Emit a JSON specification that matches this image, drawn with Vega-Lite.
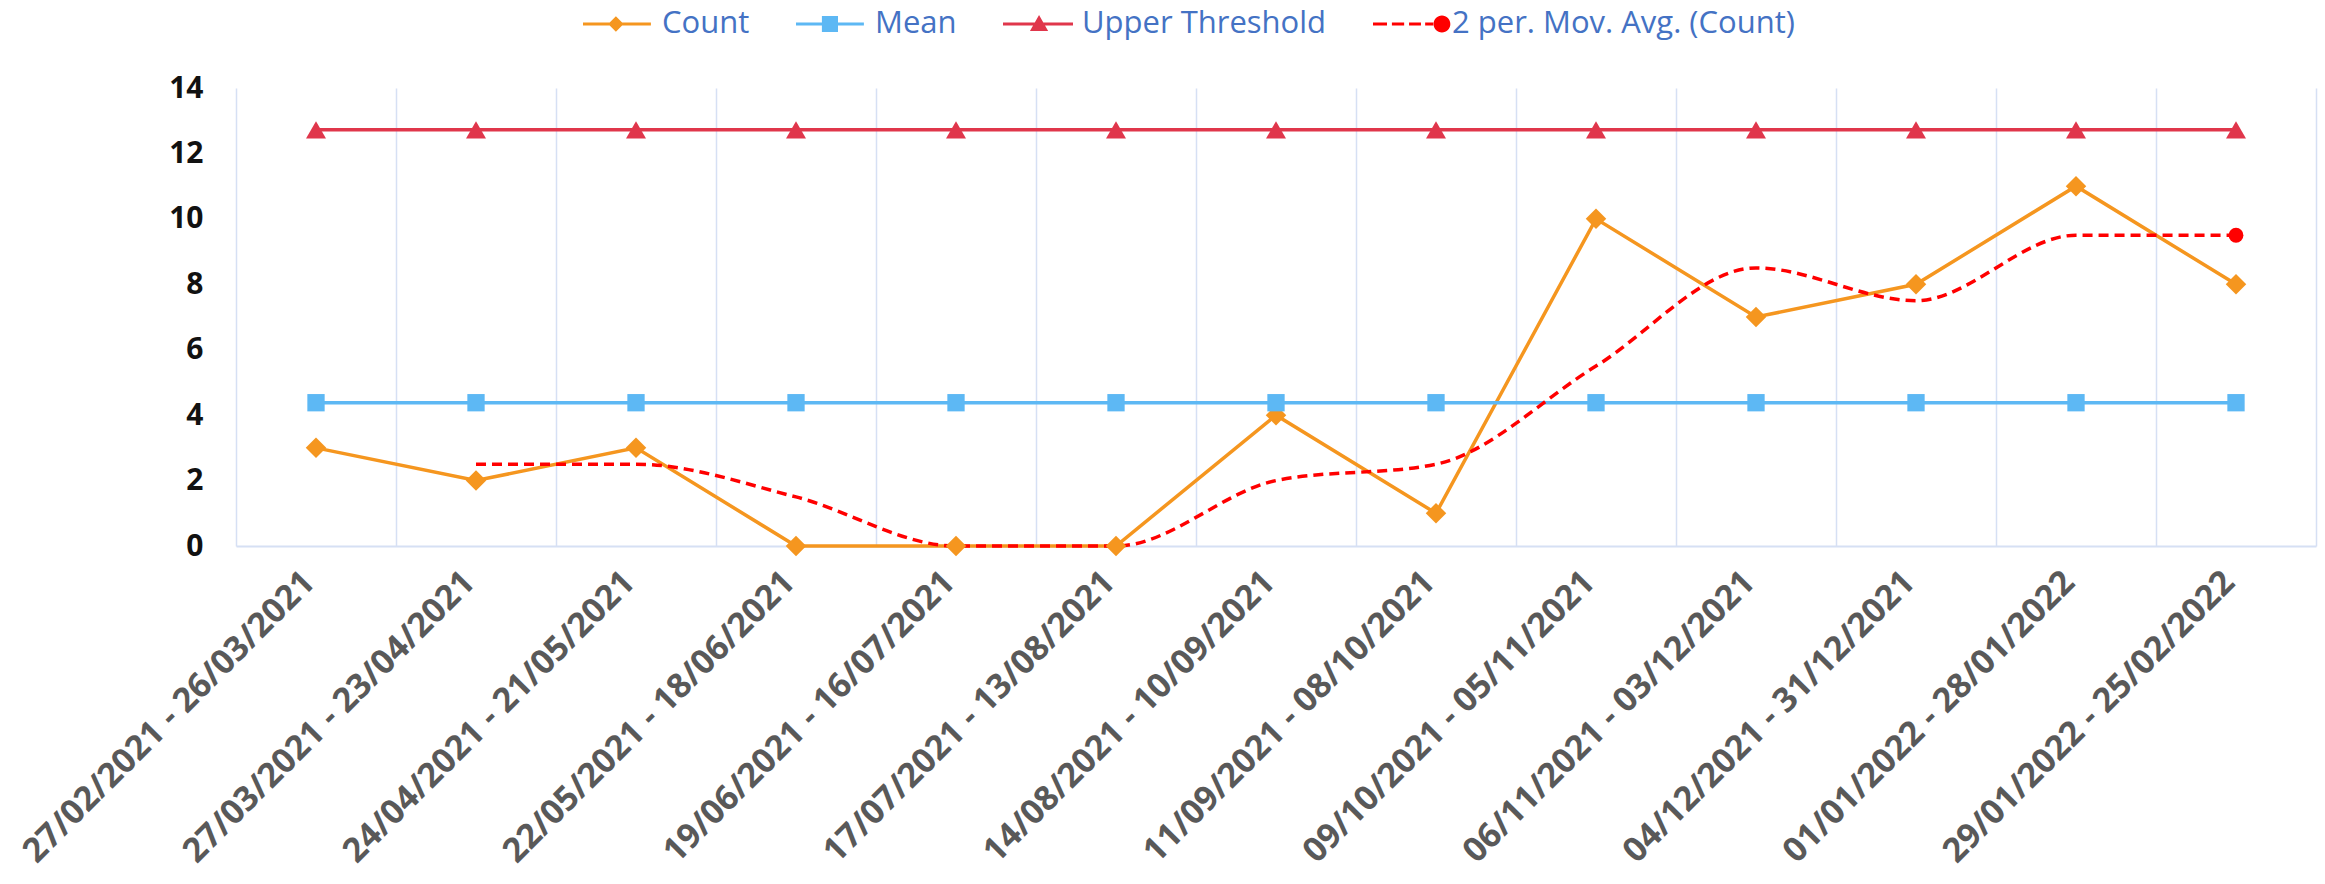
{
  "$schema": "https://vega.github.io/schema/vega-lite/v6.json",
  "autosize": {"type": "none"},
  "width": 2080,
  "height": 458,
  "padding": {"left": 236, "top": 88, "right": 9, "bottom": 338},
  "background": "white",
  "data": {
    "values": [
      {"period": "27/02/2021 - 26/03/2021", "series": "Count", "value": 3},
      {"period": "27/03/2021 - 23/04/2021", "series": "Count", "value": 2},
      {"period": "24/04/2021 - 21/05/2021", "series": "Count", "value": 3},
      {"period": "22/05/2021 - 18/06/2021", "series": "Count", "value": 0},
      {"period": "19/06/2021 - 16/07/2021", "series": "Count", "value": 0},
      {"period": "17/07/2021 - 13/08/2021", "series": "Count", "value": 0},
      {"period": "14/08/2021 - 10/09/2021", "series": "Count", "value": 4},
      {"period": "11/09/2021 - 08/10/2021", "series": "Count", "value": 1},
      {"period": "09/10/2021 - 05/11/2021", "series": "Count", "value": 10},
      {"period": "06/11/2021 - 03/12/2021", "series": "Count", "value": 7},
      {"period": "04/12/2021 - 31/12/2021", "series": "Count", "value": 8},
      {"period": "01/01/2022 - 28/01/2022", "series": "Count", "value": 11},
      {"period": "29/01/2022 - 25/02/2022", "series": "Count", "value": 8},
      {"period": "27/02/2021 - 26/03/2021", "series": "Mean", "value": 4.38},
      {"period": "27/03/2021 - 23/04/2021", "series": "Mean", "value": 4.38},
      {"period": "24/04/2021 - 21/05/2021", "series": "Mean", "value": 4.38},
      {"period": "22/05/2021 - 18/06/2021", "series": "Mean", "value": 4.38},
      {"period": "19/06/2021 - 16/07/2021", "series": "Mean", "value": 4.38},
      {"period": "17/07/2021 - 13/08/2021", "series": "Mean", "value": 4.38},
      {"period": "14/08/2021 - 10/09/2021", "series": "Mean", "value": 4.38},
      {"period": "11/09/2021 - 08/10/2021", "series": "Mean", "value": 4.38},
      {"period": "09/10/2021 - 05/11/2021", "series": "Mean", "value": 4.38},
      {"period": "06/11/2021 - 03/12/2021", "series": "Mean", "value": 4.38},
      {"period": "04/12/2021 - 31/12/2021", "series": "Mean", "value": 4.38},
      {"period": "01/01/2022 - 28/01/2022", "series": "Mean", "value": 4.38},
      {"period": "29/01/2022 - 25/02/2022", "series": "Mean", "value": 4.38},
      {"period": "27/02/2021 - 26/03/2021", "series": "Upper Threshold", "value": 12.72},
      {"period": "27/03/2021 - 23/04/2021", "series": "Upper Threshold", "value": 12.72},
      {"period": "24/04/2021 - 21/05/2021", "series": "Upper Threshold", "value": 12.72},
      {"period": "22/05/2021 - 18/06/2021", "series": "Upper Threshold", "value": 12.72},
      {"period": "19/06/2021 - 16/07/2021", "series": "Upper Threshold", "value": 12.72},
      {"period": "17/07/2021 - 13/08/2021", "series": "Upper Threshold", "value": 12.72},
      {"period": "14/08/2021 - 10/09/2021", "series": "Upper Threshold", "value": 12.72},
      {"period": "11/09/2021 - 08/10/2021", "series": "Upper Threshold", "value": 12.72},
      {"period": "09/10/2021 - 05/11/2021", "series": "Upper Threshold", "value": 12.72},
      {"period": "06/11/2021 - 03/12/2021", "series": "Upper Threshold", "value": 12.72},
      {"period": "04/12/2021 - 31/12/2021", "series": "Upper Threshold", "value": 12.72},
      {"period": "01/01/2022 - 28/01/2022", "series": "Upper Threshold", "value": 12.72},
      {"period": "29/01/2022 - 25/02/2022", "series": "Upper Threshold", "value": 12.72},
      {"period": "27/03/2021 - 23/04/2021", "series": "2 per. Mov. Avg. (Count)", "value": 2.5},
      {"period": "24/04/2021 - 21/05/2021", "series": "2 per. Mov. Avg. (Count)", "value": 2.5},
      {"period": "22/05/2021 - 18/06/2021", "series": "2 per. Mov. Avg. (Count)", "value": 1.5},
      {"period": "19/06/2021 - 16/07/2021", "series": "2 per. Mov. Avg. (Count)", "value": 0},
      {"period": "17/07/2021 - 13/08/2021", "series": "2 per. Mov. Avg. (Count)", "value": 0},
      {"period": "14/08/2021 - 10/09/2021", "series": "2 per. Mov. Avg. (Count)", "value": 2},
      {"period": "11/09/2021 - 08/10/2021", "series": "2 per. Mov. Avg. (Count)", "value": 2.5},
      {"period": "09/10/2021 - 05/11/2021", "series": "2 per. Mov. Avg. (Count)", "value": 5.5},
      {"period": "06/11/2021 - 03/12/2021", "series": "2 per. Mov. Avg. (Count)", "value": 8.5},
      {"period": "04/12/2021 - 31/12/2021", "series": "2 per. Mov. Avg. (Count)", "value": 7.5},
      {"period": "01/01/2022 - 28/01/2022", "series": "2 per. Mov. Avg. (Count)", "value": 9.5},
      {"period": "29/01/2022 - 25/02/2022", "series": "2 per. Mov. Avg. (Count)", "value": 9.5}
    ]
  },
  "encoding": {
    "x": {
      "field": "period",
      "type": "nominal",
      "sort": null,
      "scale": {"paddingInner": 0, "paddingOuter": 0},
      "axis": {
        "title": null,
        "labelAngle": -45,
        "labelBaseline": "middle",
        "labelFont": "Open Sans",
        "labelFontWeight": "bold",
        "labelFontSize": 34,
        "labelColor": "#595959",
        "labelPadding": 31,
        "labelOffset": -7,
        "ticks": false,
        "domainColor": "#d6e0f4",
        "domainWidth": 2,
        "grid": true,
        "gridColor": "#d6e0f4",
        "gridWidth": 1.5,
        "tickBand": "extent",
        "labelLimit": 0
      }
    },
    "y": {
      "field": "value",
      "type": "quantitative",
      "scale": {"domain": [0, 14], "nice": false},
      "axis": {
        "title": null,
        "values": [0, 2, 4, 6, 8, 10, 12, 14],
        "grid": false,
        "domain": false,
        "ticks": false,
        "labelFont": "Open Sans",
        "labelFontWeight": "bold",
        "labelFontSize": 30,
        "labelColor": "#111111",
        "labelPadding": 33
      }
    }
  },
  "layer": [
    {
      "transform": [{"filter": "datum.series == 'Count'"}],
      "mark": {"type": "line", "strokeWidth": 3.5, "color": "#f5961f"},
      "encoding": {}
    },
    {
      "transform": [{"filter": "datum.series == 'Mean'"}],
      "mark": {"type": "line", "strokeWidth": 3.5, "color": "#5db8f4"},
      "encoding": {}
    },
    {
      "transform": [{"filter": "datum.series == 'Upper Threshold'"}],
      "mark": {"type": "line", "strokeWidth": 3.5, "color": "#e0364b"},
      "encoding": {}
    },
    {
      "transform": [{"filter": "datum.series == '2 per. Mov. Avg. (Count)'"}],
      "mark": {"type": "line", "strokeWidth": 3.5, "strokeDash": [10, 6], "interpolate": "monotone", "color": "#ff0000"},
      "encoding": {}
    },
    {
      "transform": [{"filter": "datum.series == 'Count'"}],
      "mark": {"type": "point", "shape": "diamond", "filled": true, "opacity": 1, "size": 420, "color": "#f5961f"},
      "encoding": {}
    },
    {
      "transform": [{"filter": "datum.series == 'Mean'"}],
      "mark": {"type": "point", "shape": "square", "filled": true, "opacity": 1, "size": 300, "color": "#5db8f4"},
      "encoding": {}
    },
    {
      "transform": [{"filter": "datum.series == 'Upper Threshold'"}],
      "mark": {"type": "point", "shape": "triangle-up", "filled": true, "opacity": 1, "size": 400, "color": "#e0364b"},
      "encoding": {}
    },
    {
      "transform": [{"filter": "datum.series == '2 per. Mov. Avg. (Count)' && datum.period == '29/01/2022 - 25/02/2022'"}],
      "mark": {"type": "point", "shape": "circle", "filled": true, "opacity": 1, "size": 220, "color": "#ff0000"},
      "encoding": {}
    },
    {
      "mark": {"type": "point", "filled": true, "opacity": 0},
      "encoding": {
        "color": {
          "field": "series",
          "type": "nominal",
          "scale": {
            "domain": ["Count", "Mean", "Upper Threshold", "2 per. Mov. Avg. (Count)"],
            "range": ["#f5961f", "#5db8f4", "#e0364b", "#ff0000"]
          },
          "legend": {
            "title": null,
            "orient": "none",
            "direction": "horizontal",
            "legendX": 346,
            "legendY": -100,
            "symbolSize": 4900,
            "symbolOpacity": 1,
            "labelFont": "Open Sans",
            "labelFontSize": 31,
            "labelColor": "#4472c4",
            "labelOffset": 8,
            "columnPadding": 45,
            "labelLimit": 0,
            "encode": {"symbols": {"update": {"opacity": {"value": 1}}}}
          }
        },
        "shape": {
          "field": "series",
          "type": "nominal",
          "scale": {
            "domain": ["Count", "Mean", "Upper Threshold", "2 per. Mov. Avg. (Count)"],
            "range": [
              "M-1,-0.045H0.94V0.045H-1Z M-0.06,-0.22L0.16,0L-0.06,0.22L-0.28,0Z",
              "M-1,-0.045H0.94V0.045H-1Z M-0.26,-0.23H0.2V0.23H-0.26Z",
              "M-1,-0.045H1V0.045H-1Z M0.03,-0.26L0.29,0.2L-0.23,0.2Z",
              "M-1,-0.045H-0.6V0.045H-1Z M-0.46,-0.045H-0.11V0.045H-0.46Z M0.03,-0.045H0.37V0.045H0.03Z M0.49,-0.045H0.72V0.045H0.49Z M0.73,0A0.24,0.24 0 1,1 1.21,0A0.24,0.24 0 1,1 0.73,0Z"
            ]
          },
          "legend": {
            "title": null,
            "orient": "none",
            "direction": "horizontal",
            "legendX": 346,
            "legendY": -100,
            "symbolSize": 4900,
            "symbolOpacity": 1,
            "labelFont": "Open Sans",
            "labelFontSize": 31,
            "labelColor": "#4472c4",
            "labelOffset": 8,
            "columnPadding": 45,
            "labelLimit": 0,
            "encode": {"symbols": {"update": {"opacity": {"value": 1}}}}
          }
        }
      }
    }
  ],
  "config": {"view": {"stroke": null}}
}
